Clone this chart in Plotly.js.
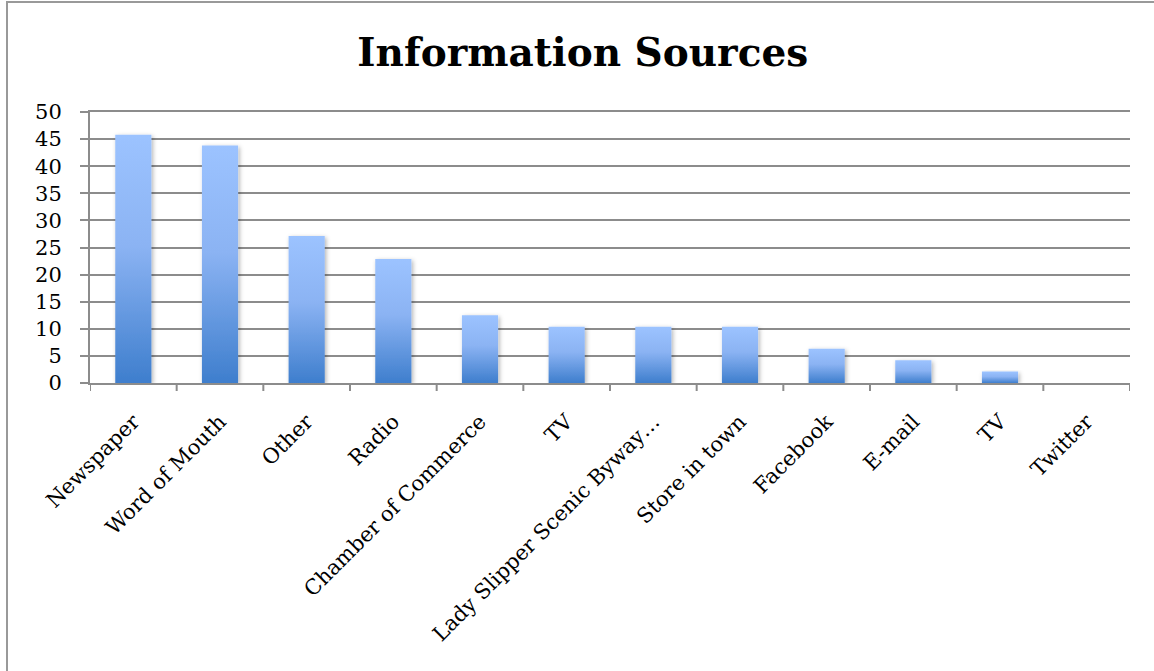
<!DOCTYPE html>
<html>
<head>
<meta charset="utf-8">
<script src="https://cdn.plot.ly/plotly-3.0.1.min.js"></script>
<style>
  html, body { margin: 0; padding: 0; background: #fff; }
  #chart { width: 1154px; height: 671px; }
</style>
</head>
<body>
<div id="chart"></div>
<script>
// Data (percent of respondents)
const categories = ["Newspaper", "Word of Mouth", "Other", "Radio", "Chamber of Commerce", "TV",
  "Lady Slipper Scenic Byway…", "Store in town", "Facebook", "E-mail", "TV", "Twitter"];
const values = [45.8, 43.8, 27.1, 22.9, 12.5, 10.4, 10.4, 10.4, 6.3, 4.2, 2.1, 0];
const yTicks = [0, 5, 10, 15, 20, 25, 30, 35, 40, 45, 50];

const positions = categories.map((c, i) => i);

const trace = {
  type: "bar",
  x: positions,
  y: values,
  marker: { color: "#6a9be6", line: { width: 0 } },
  hoverinfo: "x+y"
};

const serif = "'DejaVu Serif', 'Liberation Serif', serif";
const gridCol = "#8c8c8c";

const layout = {
  width: 1154,
  height: 671,
  paper_bgcolor: "#ffffff",
  plot_bgcolor: "#ffffff",
  margin: { l: 90, r: 24, t: 112, b: 288 },
  showlegend: false,
  bargap: 0.583,
  title: {
    text: "<b>Information Sources</b>",
    font: { family: serif, size: 39, color: "#000" },
    x: 0.505, xref: "container", xanchor: "center",
    y: 0.922, yref: "container", yanchor: "middle"
  },
  xaxis: {
    range: [-0.5, categories.length - 0.5],
    tickmode: "array",
    tickvals: positions,
    ticktext: categories,
    tickangle: -45,
    tickfont: { family: serif, size: 21, color: "#000" },
    ticklabelstandoff: 16,
    showgrid: false,
    zeroline: false,
    showline: true,
    mirror: true,
    linecolor: gridCol,
    linewidth: 2,
    ticks: "",
    fixedrange: true
  },
  yaxis: {
    range: [0, 50],
    tickmode: "array",
    tickvals: yTicks,
    ticktext: yTicks.map(String),
    tickfont: { family: serif, size: 21, color: "#000" },
    showgrid: true,
    gridcolor: gridCol,
    gridwidth: 2,
    zeroline: false,
    showline: true,
    linecolor: gridCol,
    linewidth: 2,
    ticks: "outside",
    ticklen: 8,
    tickcolor: gridCol,
    tickwidth: 2,
    ticklabelstandoff: 14,
    fixedrange: true
  },
  shapes: [
    // outer chart frame
    { type: "rect", xref: "paper", yref: "paper",
      x0: (7 - 90) / 1040, x1: 1.2, y0: -2, y1: (383 - 2) / 271,
      line: { color: "#999999", width: 2 }, fillcolor: "rgba(0,0,0,0)", layer: "below" }
  ].concat(
    // category separator ticks on x-axis (between bars)
    positions.concat([categories.length]).map(i => ({
      type: "line", xref: "x", yref: "paper",
      x0: i - 0.5, x1: i - 0.5, y0: 0, y1: -8 / 271,
      line: { color: gridCol, width: 2 }
    }))
  )
};

Plotly.newPlot("chart", [trace], layout, { displayModeBar: false, staticPlot: true }).then(gd => {
  const svg = gd.querySelector("svg.main-svg");
  const ns = "http://www.w3.org/2000/svg";
  let defs = svg.querySelector("defs");
  if (!defs) { defs = document.createElementNS(ns, "defs"); svg.insertBefore(defs, svg.firstChild); }
  const grad = document.createElementNS(ns, "linearGradient");
  grad.setAttribute("id", "barGrad");
  grad.setAttribute("x1", "0"); grad.setAttribute("y1", "0");
  grad.setAttribute("x2", "0"); grad.setAttribute("y2", "1");
  [["0", "#9cc3ff"], ["0.45", "#8bb3f3"], ["1", "#3e7ecd"]].forEach(([o, c]) => {
    const s = document.createElementNS(ns, "stop");
    s.setAttribute("offset", o); s.setAttribute("stop-color", c);
    grad.appendChild(s);
  });
  defs.appendChild(grad);
  const filt = document.createElementNS(ns, "filter");
  filt.setAttribute("id", "barShadow");
  filt.setAttribute("x", "-30%"); filt.setAttribute("y", "-10%");
  filt.setAttribute("width", "160%"); filt.setAttribute("height", "130%");
  const ds = document.createElementNS(ns, "feDropShadow");
  ds.setAttribute("dx", "1.5"); ds.setAttribute("dy", "1.5");
  ds.setAttribute("stdDeviation", "2"); ds.setAttribute("flood-color", "#000");
  ds.setAttribute("flood-opacity", "0.3");
  filt.appendChild(ds);
  defs.appendChild(filt);
  gd.querySelectorAll(".barlayer .point path").forEach(p => {
    p.style.fill = "url(#barGrad)";
    p.setAttribute("filter", "url(#barShadow)");
  });
});
</script>
</body>
</html>
